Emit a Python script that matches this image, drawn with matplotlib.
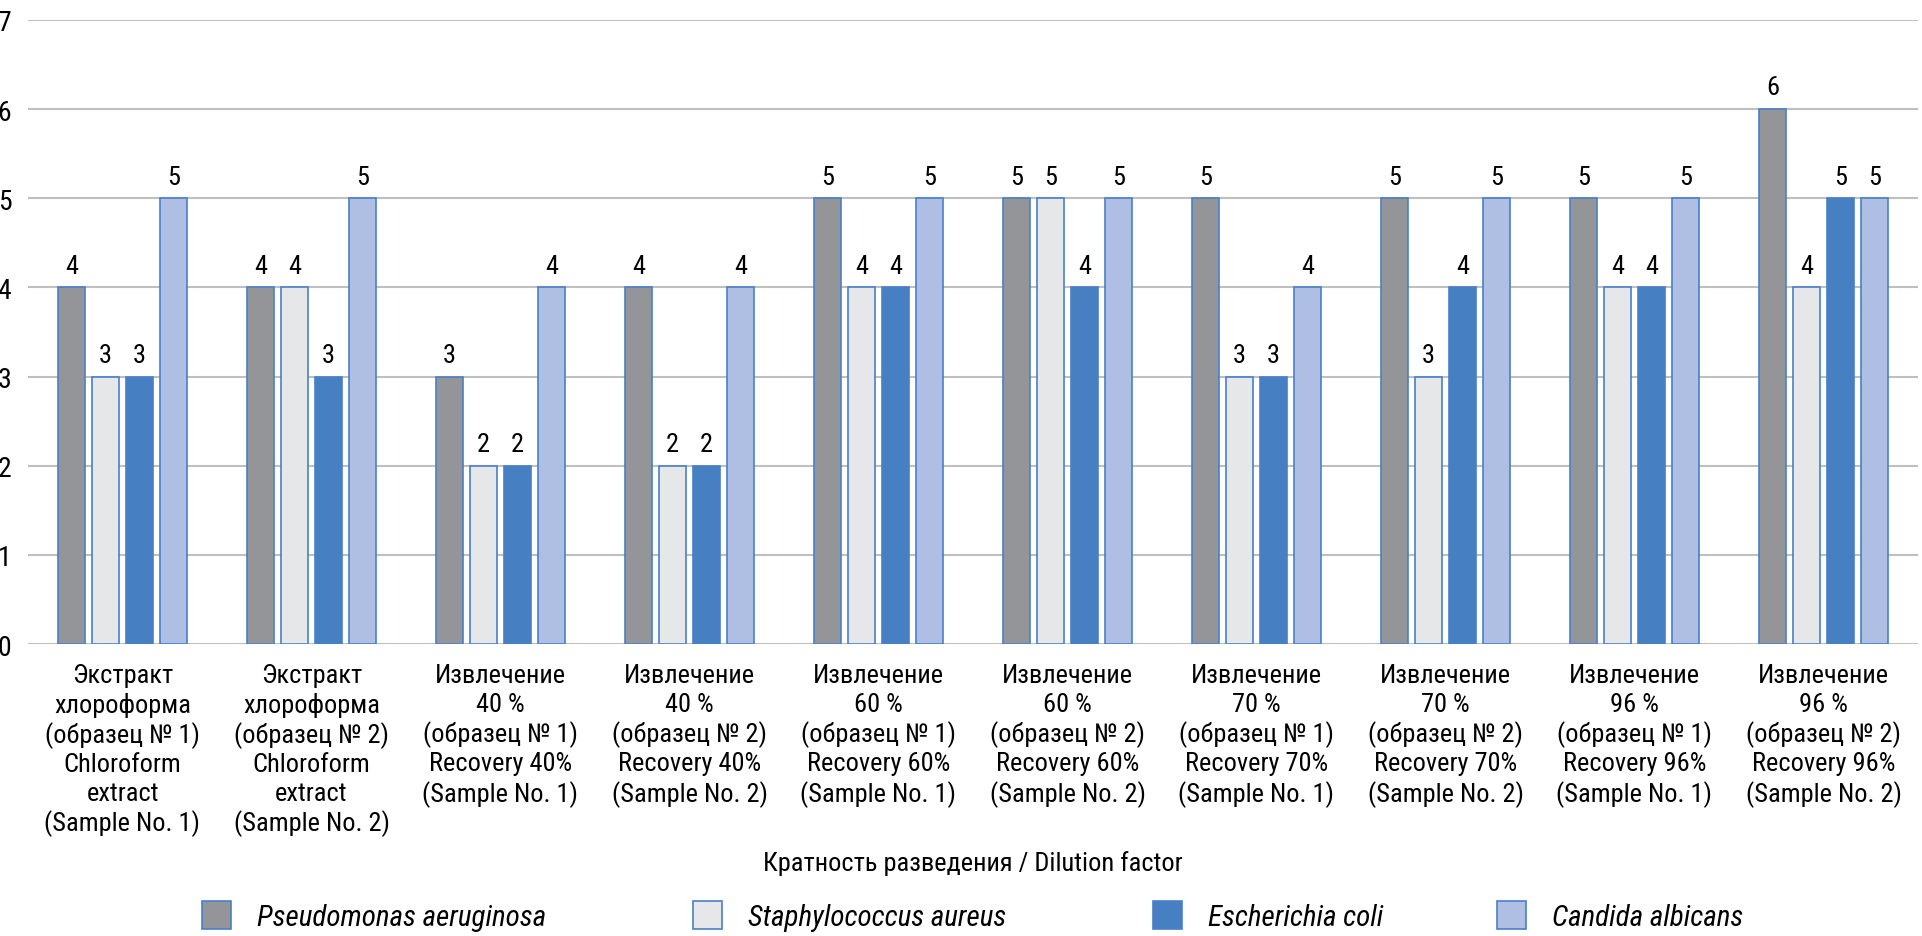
import matplotlib
matplotlib.use("Agg")
import matplotlib.pyplot as plt
from matplotlib import font_manager as fm
from matplotlib.patches import Patch
import numpy as np

categories = [
    "Экстракт\nхлороформа\n(образец № 1)\nChloroform\nextract\n(Sample No. 1)",
    "Экстракт\nхлороформа\n(образец № 2)\nChloroform\nextract\n(Sample No. 2)",
    "Извлечение\n40 %\n(образец № 1)\nRecovery 40%\n(Sample No. 1)",
    "Извлечение\n40 %\n(образец № 2)\nRecovery 40%\n(Sample No. 2)",
    "Извлечение\n60 %\n(образец № 1)\nRecovery 60%\n(Sample No. 1)",
    "Извлечение\n60 %\n(образец № 2)\nRecovery 60%\n(Sample No. 2)",
    "Извлечение\n70 %\n(образец № 1)\nRecovery 70%\n(Sample No. 1)",
    "Извлечение\n70 %\n(образец № 2)\nRecovery 70%\n(Sample No. 2)",
    "Извлечение\n96 %\n(образец № 1)\nRecovery 96%\n(Sample No. 1)",
    "Извлечение\n96 %\n(образец № 2)\nRecovery 96%\n(Sample No. 2)",
]
series_names = ["Pseudomonas aeruginosa", "Staphylococcus aureus", "Escherichia coli", "Candida albicans"]
pseudomonas = [4, 4, 3, 4, 5, 5, 5, 5, 5, 6]
staphylococcus = [3, 4, 2, 2, 4, 5, 3, 3, 4, 4]
escherichia = [3, 3, 2, 2, 4, 4, 3, 4, 4, 5]
candida = [5, 5, 4, 4, 5, 5, 4, 5, 5, 5]
yticks = [0, 1, 2, 3, 4, 5, 6, 7]
xlabel = "Кратность разведения / Dilution factor"

colors = ["#939598", "#E6E7E9", "#4680C2", "#AFBFE3"]
edge = "#4A7FC9"

names = {f.name for f in fm.fontManager.ttflist}
font = "Roboto Condensed" if "Roboto Condensed" in names else "DejaVu Sans"
plt.rcParams['font.family'] = [font, 'DejaVu Sans']

W, H = 1922, 937
fig = plt.figure(figsize=(W/100, H/100), dpi=100)
ax = fig.add_axes([28/W, 1-645/H, 1890/W, 624/H])

x = np.arange(len(categories))
w = 0.145
step = 0.18
data = [pseudomonas, staphylococcus, escherichia, candida]
for j, (vals, c, nm) in enumerate(zip(data, colors, series_names)):
    pos = x + (j - 1.5) * step
    bars = ax.bar(pos, vals, width=w, color=c, edgecolor=edge, linewidth=1.2, label=nm, zorder=3)
    for b, v in zip(bars, vals):
        ax.annotate(str(v), (b.get_x() + b.get_width()/2, v), xytext=(0, 7), textcoords='offset points',
                    ha='center', va='bottom', fontsize=19)

ax.set_xlim(-0.5, len(categories) - 0.5)
ax.set_ylim(0, 7)
ax.set_yticks(yticks)
ax.yaxis.grid(True, color="#BFBFBF", linewidth=1.5, zorder=0)
ax.set_axisbelow(True)
for s in ax.spines.values():
    s.set_visible(False)
ax.set_xticks(x)
ax.set_xticklabels(categories, fontsize=19, linespacing=1.22)
ax.tick_params(axis='x', length=0, pad=14)
ax.tick_params(axis='y', length=0, pad=12, labelsize=20)

fig.text(973/W, 1-864/H, xlabel, fontsize=19, ha='center', va='center')

marker_x = [202, 693, 1153, 1497]
for j in range(4):
    h = Patch(facecolor=colors[j], edgecolor=edge, linewidth=1.2)
    lg = fig.legend([h], [series_names[j]], loc='center left', bbox_to_anchor=(marker_x[j]/W, 1-917/H),
                    frameon=False, prop={'style': 'italic', 'size': 21}, handlelength=1.0, handleheight=1.1,
                    handletextpad=0.9, borderpad=0, borderaxespad=0)

fig.savefig("out.png", dpi=100)
